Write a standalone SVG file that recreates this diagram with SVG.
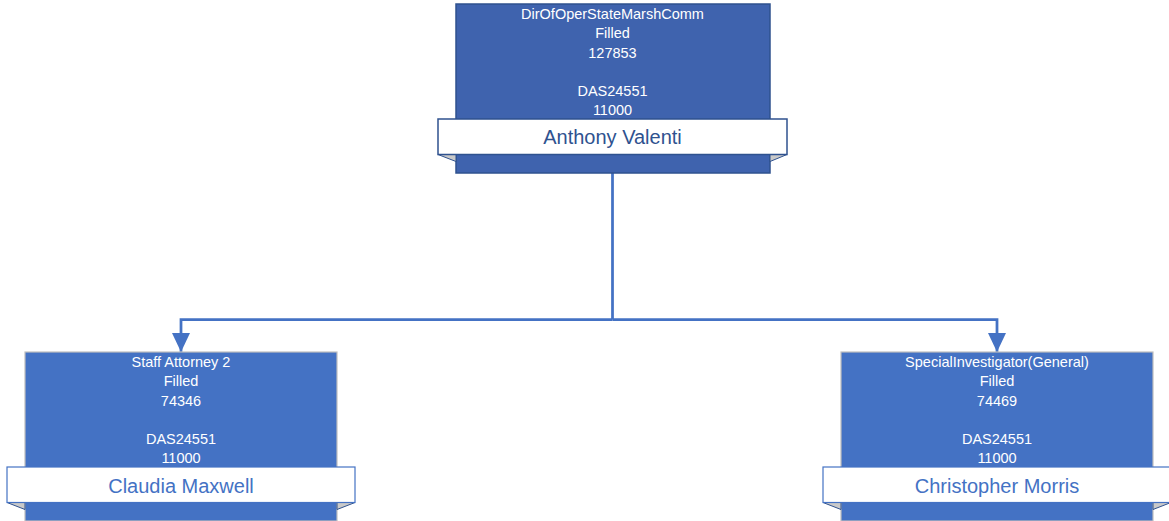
<svg xmlns="http://www.w3.org/2000/svg" width="1169" height="521" viewBox="0 0 1169 521">
<defs>
<marker id="arr" markerUnits="userSpaceOnUse" viewBox="0 0 19 18" refX="19" refY="9" markerWidth="19" markerHeight="18" orient="auto">
<path d="M0,0 L19,9 L0,18 Z" fill="#4472C4"/>
</marker>
<style>
.box{fill:#4472C4;stroke:#BFBFBF;stroke-width:1.2}
.boxTop{fill:#3F63AE;stroke:#2F528F;stroke-width:1.5}
.banner{fill:#FFFFFF;stroke:#4472C4;stroke-width:1.2}
.bannerTop{fill:#FFFFFF;stroke:#2F528F;stroke-width:1.5}
.fold{fill:#C9C9C9;stroke:#2F528F;stroke-width:1}
.info{font-family:"Liberation Sans",Arial,sans-serif;font-size:14.5px;fill:#FFFFFF;text-anchor:middle}
.name{font-family:"Liberation Sans",Arial,sans-serif;font-size:20px;fill:#4472C4;text-anchor:middle}
.nameTop{fill:#2F528F}
.conn{fill:none;stroke:#4472C4;stroke-width:2.75}
</style>
</defs>
<g id="connectors">
<path class="conn" d="M612.5,173 V319.5"/>
<path class="conn" d="M612.5,319.5 H181 V352" marker-end="url(#arr)"/>
<path class="conn" d="M612.5,319.5 H997 V352" marker-end="url(#arr)"/>
</g>
<g id="node-anthony-valenti">
<rect class="boxTop" x="456" y="4" width="314" height="169"/>
<polygon class="fold" points="438,154.5 456,154.5 456,161.5"/>
<polygon class="fold" points="787,154.5 770,154.5 770,161.5"/>
<rect class="bannerTop" x="438" y="119" width="349" height="35.5"/>
<text class="info" x="612.5" y="18.5">DirOfOperStateMarshComm</text>
<text class="info" x="612.5" y="38">Filled</text>
<text class="info" x="612.5" y="57.5">127853</text>
<text class="info" x="612.5" y="95.5">DAS24551</text>
<text class="info" x="612.5" y="114.5">11000</text>
<text class="name nameTop" x="612.5" y="144">Anthony Valenti</text>
</g>
<g id="node-claudia-maxwell">
<rect class="box" x="25" y="352" width="312" height="169"/>
<polygon class="fold" points="7,502.5 25,502.5 25,509.5"/>
<polygon class="fold" points="355,502.5 337,502.5 337,509.5"/>
<rect class="banner" x="7" y="467" width="348" height="35.5"/>
<text class="info" x="181" y="366.5">Staff Attorney 2</text>
<text class="info" x="181" y="386">Filled</text>
<text class="info" x="181" y="405.5">74346</text>
<text class="info" x="181" y="443.5">DAS24551</text>
<text class="info" x="181" y="462.5">11000</text>
<text class="name" x="181" y="492.5">Claudia Maxwell</text>
</g>
<g id="node-christopher-morris">
<rect class="box" x="841" y="352" width="312" height="169"/>
<polygon class="fold" points="823,502.5 841,502.5 841,509.5"/>
<polygon class="fold" points="1171,502.5 1153,502.5 1153,509.5"/>
<rect class="banner" x="823" y="467" width="348" height="35.5"/>
<text class="info" x="997" y="366.5">SpecialInvestigator(General)</text>
<text class="info" x="997" y="386">Filled</text>
<text class="info" x="997" y="405.5">74469</text>
<text class="info" x="997" y="443.5">DAS24551</text>
<text class="info" x="997" y="462.5">11000</text>
<text class="name" x="997" y="492.5">Christopher Morris</text>
</g>
</svg>
